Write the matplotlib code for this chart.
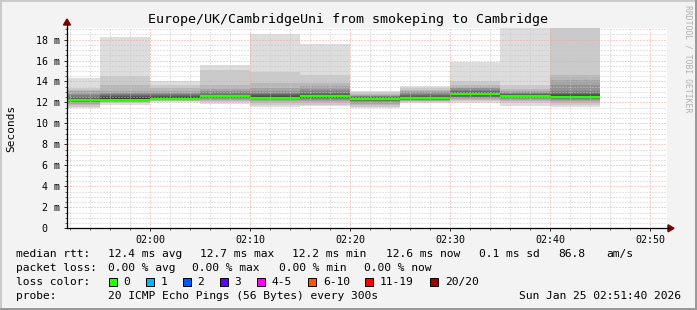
import matplotlib
matplotlib.use('Agg')
import matplotlib.pyplot as plt
from matplotlib.lines import Line2D
from matplotlib.patches import Polygon, Rectangle
import numpy as np

W, H = 697, 310
MONO = 'DejaVu Sans Mono'

# interval start times (5 min steps), the last one ends at 02:45
starts = ['01:51:40', '01:55', '02:00', '02:05', '02:10', '02:15',
          '02:20', '02:25', '02:30', '02:35', '02:40']
last_end = '02:45'

# median rtt per interval (ms)
median = [12.28, 12.26, 12.37, 12.57, 12.46, 12.57, 12.37, 12.38, 12.76, 12.63, 12.55]

# 20 sorted ping rtts per interval (ms)
pings = [
    [11.46, 11.6, 11.75, 11.9, 12.0, 12.05, 12.1, 12.15, 12.2, 12.25, 12.3, 12.35, 12.45, 12.55, 12.7, 12.85, 13.05, 13.2, 13.4, 14.3],
    [11.78, 11.94, 12.0, 12.05, 12.1, 12.15, 12.2, 12.25, 12.3, 12.35, 12.4, 12.5, 12.6, 12.7, 12.8, 12.9, 13.05, 13.7, 14.5, 18.27],
    [12.03, 12.1, 12.15, 12.2, 12.25, 12.3, 12.33, 12.36, 12.4, 12.45, 12.5, 12.55, 12.6, 12.7, 12.8, 12.9, 13.1, 13.4, 13.7, 14.07],
    [11.85, 12.03, 12.15, 12.25, 12.35, 12.4, 12.45, 12.5, 12.55, 12.58, 12.62, 12.68, 12.75, 12.85, 12.95, 13.05, 13.3, 13.7, 15.1, 15.6],
    [11.6, 11.78, 11.95, 12.1, 12.2, 12.3, 12.35, 12.4, 12.45, 12.5, 12.55, 12.6, 12.7, 12.8, 12.9, 13.1, 13.4, 13.9, 14.87, 18.55],
    [11.62, 11.78, 11.95, 12.1, 12.2, 12.3, 12.4, 12.45, 12.5, 12.55, 12.6, 12.7, 12.8, 12.9, 13.05, 13.3, 13.6, 13.85, 14.64, 17.57],
    [11.46, 11.6, 11.78, 11.9, 12.0, 12.1, 12.18, 12.25, 12.3, 12.35, 12.4, 12.45, 12.5, 12.55, 12.6, 12.65, 12.73, 12.85, 12.95, 13.05],
    [11.94, 12.0, 12.1, 12.15, 12.2, 12.25, 12.3, 12.33, 12.35, 12.38, 12.42, 12.5, 12.6, 12.73, 12.85, 12.95, 13.05, 13.2, 13.4, 13.6],
    [11.94, 12.1, 12.2, 12.3, 12.4, 12.5, 12.55, 12.6, 12.68, 12.73, 12.78, 12.85, 12.95, 13.05, 13.2, 13.35, 13.5, 13.7, 14.0, 15.9],
    [11.68, 11.94, 12.1, 12.25, 12.35, 12.45, 12.5, 12.55, 12.6, 12.63, 12.68, 12.72, 12.78, 12.85, 12.92, 13.0, 13.05, 13.3, 13.7, 20.5],
    [11.56, 11.78, 11.95, 12.1, 12.2, 12.3, 12.38, 12.45, 12.5, 12.53, 12.6, 12.7, 12.8, 12.9, 13.05, 13.7, 14.16, 14.64, 20.0, 21.0],
]

x_start, x_end = '01:51:40', '02:51:40'
y_max = 19.1
tick_times = ['02:00', '02:10', '02:20', '02:30', '02:40', '02:50']
y_ticks = [0, 2, 4, 6, 8, 10, 12, 14, 16, 18]

rtt_stats = ['12.4', '12.7', '12.2', '12.6']
rtt_sd = '0.1'
rtt_amps = '86.8'
loss_stats = ['0.00', '0.00', '0.00', '0.00']
loss_names = ['0', '1', '2', '3', '4-5', '6-10', '11-19', '20/20']
loss_colors = ['#26ff00', '#00b8ff', '#0059ff', '#5e00ff', '#ff00ff', '#ff5500', '#ff0000', '#a00000']


def minutes(s):
    parts = [int(p) for p in s.split(':')]
    while len(parts) < 3:
        parts.append(0)
    return parts[0] * 60 + parts[1] + parts[2] / 60.0


def fx(px):
    return px / W


def fy(py):
    return 1 - py / H


fig = plt.figure(figsize=(W / 100, H / 100), dpi=100)
fig.patch.set_facecolor('#f3f3f3')

# plot area: x 67..667 px, y 28..228.3 px
ax = fig.add_axes([fx(67), fy(228.3), 600 / W, (228.3 - 28) / H])
ax.set_facecolor('white')
ax.set_xlim(minutes(x_start), minutes(x_end))
ax.set_ylim(0, y_max)

edges = [minutes(s) for s in starts] + [minutes(last_end)]

# smoke: pair (i, 19-i), lighter outside, darker inside
for k in range(10):
    g = int(190 / 10 * (9 - k)) + 50
    col = '#%02x%02x%02x' % (g, g, g)
    for i in range(len(starts)):
        ax.fill_between([edges[i], edges[i + 1]], pings[i][k], pings[i][19 - k],
                        color=col, lw=0, antialiased=False, zorder=1)

# median line
for i in range(len(starts)):
    ax.plot([edges[i], edges[i + 1]], [median[i], median[i]], color=loss_colors[0],
            lw=1.6, solid_capstyle='butt', zorder=4)

# grid
ax.set_xticks([minutes(t) for t in tick_times])
ax.set_xticklabels(tick_times)
ax.set_xticks(np.arange(minutes('01:52'), minutes(x_end), 2), minor=True)
ax.set_yticks(y_ticks)
ax.set_yticklabels(['0  '] + ['%d m' % v for v in y_ticks[1:]])
ax.set_yticks(np.arange(0, y_max, 0.5), minor=True)

ax.grid(which='minor', color='#c8c8c8', lw=0.72, ls=(0, (1, 2)), zorder=3)
ax.grid(which='major', color='#f0a0a0', lw=0.72, ls=(0, (1, 2)), zorder=3)
ax.set_axisbelow(False)

for s in ['top', 'right']:
    ax.spines[s].set_visible(False)
for s in ['left', 'bottom']:
    ax.spines[s].set_color('#000000')
    ax.spines[s].set_linewidth(0.9)
    ax.spines[s].set_zorder(5)

ax.tick_params(axis='both', which='major', length=2.2, width=0.72, color='#333333',
               labelsize=7.2, pad=2.8)
ax.tick_params(axis='both', which='minor', length=1.4, width=0.72, color='#666666')
for lab in ax.get_xticklabels() + ax.get_yticklabels():
    lab.set_family(MONO)

# axis extensions and arrows
fig.add_artist(Line2D([fx(67), fx(67)], [fy(28), fy(24)], color='black', lw=0.9))
fig.add_artist(Line2D([fx(667), fx(669)], [fy(228.3), fy(228.3)], color='black', lw=0.9))
fig.add_artist(Polygon([[fx(67), fy(19)], [fx(63.5), fy(25)], [fx(70.5), fy(25)]],
                       closed=True, color='#7f0000', transform=fig.transFigure))
fig.add_artist(Polygon([[fx(674), fy(228.3)], [fx(668), fy(224.8)], [fx(668), fy(231.8)]],
                       closed=True, color='#7f0000', transform=fig.transFigure))

# 3d border
fig.add_artist(Rectangle((0, fy(2)), 1, 2 / H, color='#cbcbcb', transform=fig.transFigure, lw=0))
fig.add_artist(Rectangle((0, 0), 2 / W, 1, color='#cbcbcb', transform=fig.transFigure, lw=0))
fig.add_artist(Rectangle((0, 0), 1, 2 / H, color='#999999', transform=fig.transFigure, lw=0))
fig.add_artist(Rectangle((fx(695), 0), 2 / W, 1, color='#999999', transform=fig.transFigure, lw=0))

# titles
fig.text(fx(348), fy(19), 'Europe/UK/CambridgeUni from smokeping to Cambridge',
         family=MONO, fontsize=9.6, ha='center', va='center')
fig.text(fx(11), fy(128), 'Seconds', family=MONO, fontsize=8, rotation=90,
         ha='center', va='center')
fig.text(fx(688), fy(59), 'RRDTOOL / TOBI OETIKER', family=MONO, fontsize=5.9,
         rotation=270, ha='center', va='center', color='#b0b0b0')

# legend
def put(txt, x, y, **kw):
    fig.text(fx(x), fy(y), txt, family=MONO, fontsize=8.1, va='center', **kw)

r1, r2, r3, r4 = 254, 268, 282, 296
put('median rtt:', 16, r1)
for txt, x in zip([rtt_stats[0] + ' ms avg', rtt_stats[1] + ' ms max',
                   rtt_stats[2] + ' ms min', rtt_stats[3] + ' ms now',
                   rtt_sd + ' ms sd', rtt_amps, 'am/s'],
                  [107.6, 200, 292.4, 385.8, 479, 557.8, 606.7]):
    put(txt, x, r1)

put('packet loss:', 16, r2)
for txt, x in zip([loss_stats[0] + ' % avg', loss_stats[1] + ' % max',
                   loss_stats[2] + ' % min', loss_stats[3] + ' % now'],
                  [107.6, 192, 279, 364.4]):
    put(txt, x, r2)

put('loss color:', 16, r3)
box_x = [108.5, 145.5, 182.5, 219.5, 256.5, 308, 365, 430]
for name, col, bx in zip(loss_names, loss_colors, box_x):
    fig.add_artist(Rectangle((fx(bx), fy(r3 + 4)), 8 / W, 8 / H, facecolor=col,
                             edgecolor='black', lw=0.7, transform=fig.transFigure))
    put(name, bx + 15, r3)

put('probe:', 16, r4)
put('20 ICMP Echo Pings (56 Bytes) every 300s', 107.6, r4)
put('Sun Jan 25 02:51:40 2026', 681, r4, ha='right')

fig.savefig('out.png', dpi=100, facecolor=fig.get_facecolor())
